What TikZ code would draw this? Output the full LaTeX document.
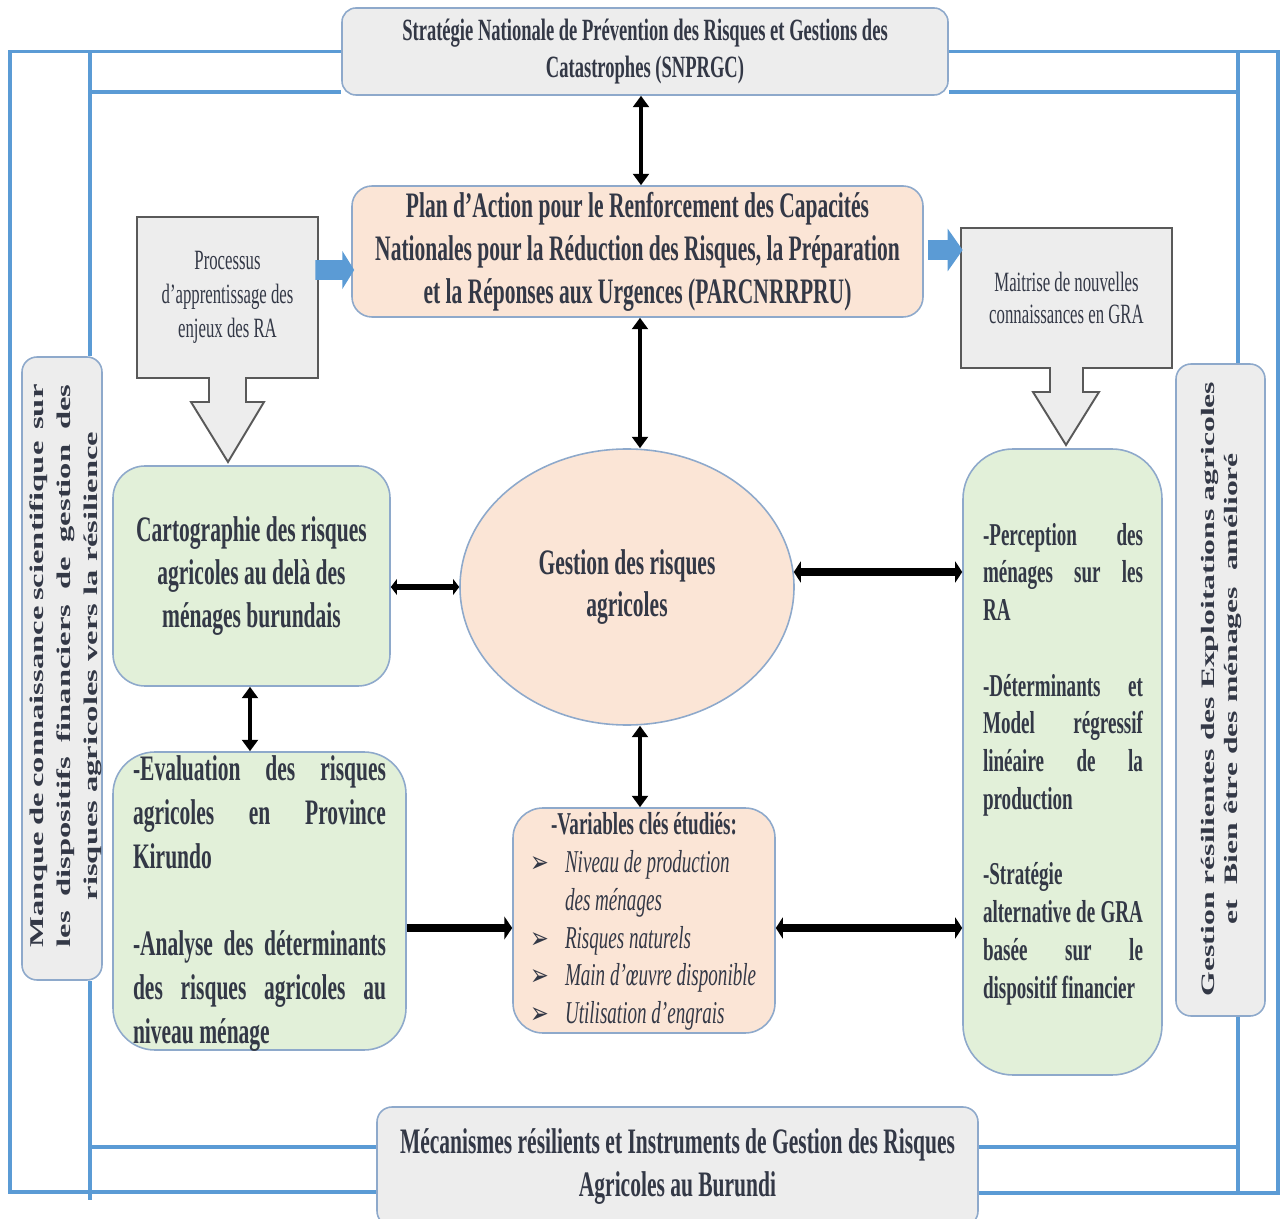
\documentclass[tikz,border=0pt]{standalone}
\usepackage{fontspec}
\setmainfont{Liberation Serif}[FakeStretch=0.6]
\newfontfamily\vf{Liberation Serif}[FakeStretch=1.67]
\newfontfamily\dv{DejaVu Sans}[FakeStretch=0.75]
\usetikzlibrary{arrows.meta,calc,shapes.geometric,backgrounds}
\newlength\px \setlength\px{0.02cm}
\definecolor{grayf}{HTML}{EDEDED}
\definecolor{peach}{HTML}{FBE5D6}
\definecolor{greenf}{HTML}{E2F0D9}
\definecolor{bord}{HTML}{8EA9CB}
\definecolor{blu}{HTML}{5B9BD5}
\definecolor{txt}{HTML}{333846}
\definecolor{calloutb}{HTML}{595959}
\newcommand\vbul{\makebox[37\px][l]{\hspace*{2\px}{\dv\fontsize{17}{17}\selectfont ➢}}}
\tikzset{
 base/.style={draw=bord, line width=0.9pt, inner sep=0pt, text=txt},
 grey/.style={base, fill=grayf},
 peachbox/.style={base, fill=peach},
 greenbox/.style={base, fill=greenf},
 lbl/.style={text=txt, inner sep=0pt, align=center},
 bigbold/.style={font=\fontsize{20.4}{24.4}\selectfont\bfseries},
 midbold/.style={font=\fontsize{18.1}{21.5}\selectfont\bfseries},
 smallreg/.style={font=\fontsize{15.9}{19.3}\selectfont},
 vert/.style={font=\vf\fontsize{11.1}{15.3}\selectfont\bfseries, rotate=90, align=center, text=txt, inner sep=0pt},
 frame/.style={draw=blu, line width=1.8pt},
 callout/.style={draw=calloutb, line width=1.1pt, fill=grayf, line join=miter},
 blockL/.style={draw=blu, line width=11.3pt, -{Triangle[length=6.8pt,width=21.5pt]}},
 blockR/.style={draw=blu, line width=11.3pt, -{Triangle[length=8.5pt,width=23.8pt]}},
 hdbl/.style={draw=black, line width=4.5pt, {Triangle[length=4pt,width=12pt]}-{Triangle[length=4pt,width=12pt]}},
 hsingle/.style={draw=black, line width=4.5pt, -{Triangle[length=4.5pt,width=13pt]}},
 cdbl/.style={draw=black, line width=3.2pt, {Triangle[length=3.5pt,width=9pt]}-{Triangle[length=3.5pt,width=9pt]}},
 vdbl/.style={draw=black, line width=2.8pt, {Triangle[length=6.5pt,width=9pt]}-{Triangle[length=6.5pt,width=9pt]}},
}
\begin{document}
\begin{tikzpicture}[x=0.02cm, y=-0.02cm]
\useasboundingbox (0,0) rectangle (1288,1219);

% top and bottom boxes
\node[grey, rounded corners=14\px, minimum width=606\px, minimum height=87\px, lbl, font=\fontsize{17.6}{21}\selectfont\bfseries] (top) at (645,51.5)
  {Stratégie Nationale de Prévention des Risques et Gestions des\\Catastrophes (SNPRGC)};
\node[grey, rounded corners=15\px, minimum width=601\px, minimum height=119\px, lbl, bigbold] (bot) at (677.5,1166.5)
  {Mécanismes résilients et Instruments de Gestion des Risques\\Agricoles au Burundi};

% side boxes
\node[grey, rounded corners=15\px, minimum width=80\px, minimum height=623\px] (lvb) at (62,668.5) {};
\node[vert] (lvt) at (66,666)
  {\makebox[563\px][s]{Manque de connaissance scientifique\ \ sur}\\
   \makebox[563\px][s]{les dispositifs financiers de gestion des}\\
   risques agricoles vers la résilience};
\node[grey, rounded corners=15\px, minimum width=89\px, minimum height=652\px] (rvb) at (1220.5,690) {};
\node[vert, font=\vf\fontsize{10.8}{13.6}\selectfont\bfseries] (rvt) at (1221.5,689)
  {Gestion résilientes des Exploitations agricoles\\ et\ \ Bien être des ménages\ \ amélioré};

% PARC box
\node[peachbox, rounded corners=20\px, minimum width=571\px, minimum height=131\px, lbl, bigbold] (parc) at (637.5,251.5)
  {Plan d’Action pour le Renforcement des Capacités\\Nationales pour la Réduction des Risques, la Préparation\\et la Réponses aux Urgences (PARCNRRPRU)};

% callout boxes
\draw[callout] (137,217) -- (318,217) -- (318,378) -- (246,378) -- (246,402) -- (264,402) -- (228,462)
  -- (191,402) -- (209,402) -- (209,378) -- (137,378) -- cycle;
\node[lbl, smallreg, minimum width=181\px, minimum height=161\px] (proc) at (227.5,297.5)
  {Processus\\d’apprentissage des\\enjeux des RA};
\draw[callout] (961,228) -- (1172,228) -- (1172,368) -- (1083,368) -- (1083,392) -- (1099,392) -- (1066,445)
  -- (1033,392) -- (1050,392) -- (1050,368) -- (961,368) -- cycle;
\node[lbl, font=\fontsize{15.9}{18.7}\selectfont, minimum width=211\px, minimum height=140\px] (mait) at (1066.5,298)
  {Maitrise de nouvelles\\connaissances en GRA};

% green boxes
\node[greenbox, rounded corners=32\px, minimum width=277\px, minimum height=220\px, lbl, bigbold] (carto) at (251.5,576)
  {Cartographie des risques\\agricoles au delà des\\ménages burundais};
\node[greenbox, rounded corners=42\px, minimum width=293\px, minimum height=298\px] (eval) at (259.5,901) {};
\node[lbl, align=left, font=\fontsize{20.4}{24.9}\selectfont\bfseries] (evaltxt) at (259.5,903.5)
  {\makebox[253\px][s]{-Evaluation des risques}\\
   \makebox[253\px][s]{agricoles en Province}\\
   Kirundo\\
   \mbox{}\\
   \makebox[253\px][s]{-Analyse des déterminants}\\
   \makebox[253\px][s]{des risques agricoles au}\\
   niveau ménage};
\node[greenbox, rounded corners=50\px, minimum width=199\px, minimum height=626\px] (rbox) at (1062.5,762) {};
\node[lbl, align=left, midbold] (rtxt) at (1063,764)
  {\makebox[160\px][s]{-Perception des}\\
   \makebox[160\px][s]{ménages sur les}\\
   RA\\
   \mbox{}\\
   \makebox[160\px][s]{-Déterminants et}\\
   \makebox[160\px][s]{Model régressif}\\
   \makebox[160\px][s]{linéaire de la}\\
   production\\
   \mbox{}\\
   -Stratégie\\
   \makebox[160\px][s]{alternative de GRA}\\
   \makebox[160\px][s]{basée sur le}\\
   dispositif financier};

% ellipse
\node[peachbox, ellipse, minimum width=334\px, minimum height=276\px, lbl, bigbold] (ell) at (627,587)
  {Gestion des risques\\agricoles};

% variables box
\node[peachbox, rounded corners=30\px, minimum width=262\px, minimum height=225\px] (var) at (644,920.5) {};
\node[lbl, align=left, font=\fontsize{18.1}{21.5}\selectfont] (vartxt) at (644,921.5)
  {\makebox[232\px]{\bfseries -Variables clés étudiés:}\\
   \vbul\textit{Niveau de production}\\
   \hspace*{37\px}\textit{des ménages}\\
   \vbul\textit{Risques naturels}\\
   \vbul\textit{Main d’œuvre disponible}\\
   \vbul\textit{Utilisation d’engrais}};

% blue block arrows
\draw[blockL] ($(proc.east)+(-3,-27.5)$) -- ($(parc.west)+(3,18.5)$);
\draw[blockR] ($(parc.east)+(4,-1.5)$) -- ($(mait.west)+(2,-48)$);

% black connectors
\coordinate (a1) at ($(top.south)+(-4,0)$);
\draw[vdbl] (a1) -- (a1 |- parc.north);
\coordinate (a2) at ($(parc.south)+(2.5,0)$);
\draw[vdbl] (a2) -- (a2 |- ell.north);
\coordinate (a3) at ($(var.north)+(-4,0)$);
\draw[vdbl] (a3 |- ell.south) -- (a3);
\coordinate (a4) at ($(carto.south)+(-1.5,0)$);
\draw[vdbl] (a4) -- (a4 |- eval.north);
\draw[cdbl] (ell.west -| carto.east) -- (ell.west);
\coordinate (a5) at ($(ell.east)+(-1,-15)$);
\draw[hdbl] (a5) -- (a5 -| rbox.west);
\coordinate (a6) at ($(eval.east)+(0,27)$);
\draw[hsingle] (a6) -- (a6 -| var.west);
\draw[hdbl] (a6 -| var.east) -- (a6 -| rbox.west);

% blue frame
\coordinate (oTL) at (10,51.5);
\coordinate (oBL) at (10,1192);
\coordinate (oTR) at (1278,51.5);
\coordinate (oBR) at (1278,1193);
\coordinate (iTL) at (90,51.5);
\coordinate (iT) at (90,92);
\coordinate (iBL) at (90,1200);
\coordinate (iB) at (90,1147);
\coordinate (jTR) at (1238,51.5);
\coordinate (jT) at (1238,92);
\coordinate (jB) at (1238,1147);
\coordinate (jBR) at (1238,1193);
\begin{pgfonlayer}{background}
\draw[frame] (top.west) -- (oTL) -- (oBL) -- (oBL -| bot.west);
\draw[frame] (top.east) -- (oTR) -- (oBR) -- (oBR -| bot.east);
\draw[frame] (iTL) -- (iTL |- lvb.north);
\draw[frame] (iT) -- (iT -| top.west);
\draw[frame] (iTL |- lvb.south) -- (iBL);
\draw[frame] (iB) -- (iB -| bot.west);
\draw[frame] (jTR) -- (jTR |- rvb.north);
\draw[frame] (jT) -- (jT -| top.east);
\draw[frame] (jTR |- rvb.south) -- (jBR);
\draw[frame] (jB) -- (jB -| bot.east);
\end{pgfonlayer}
\end{tikzpicture}
\end{document}
